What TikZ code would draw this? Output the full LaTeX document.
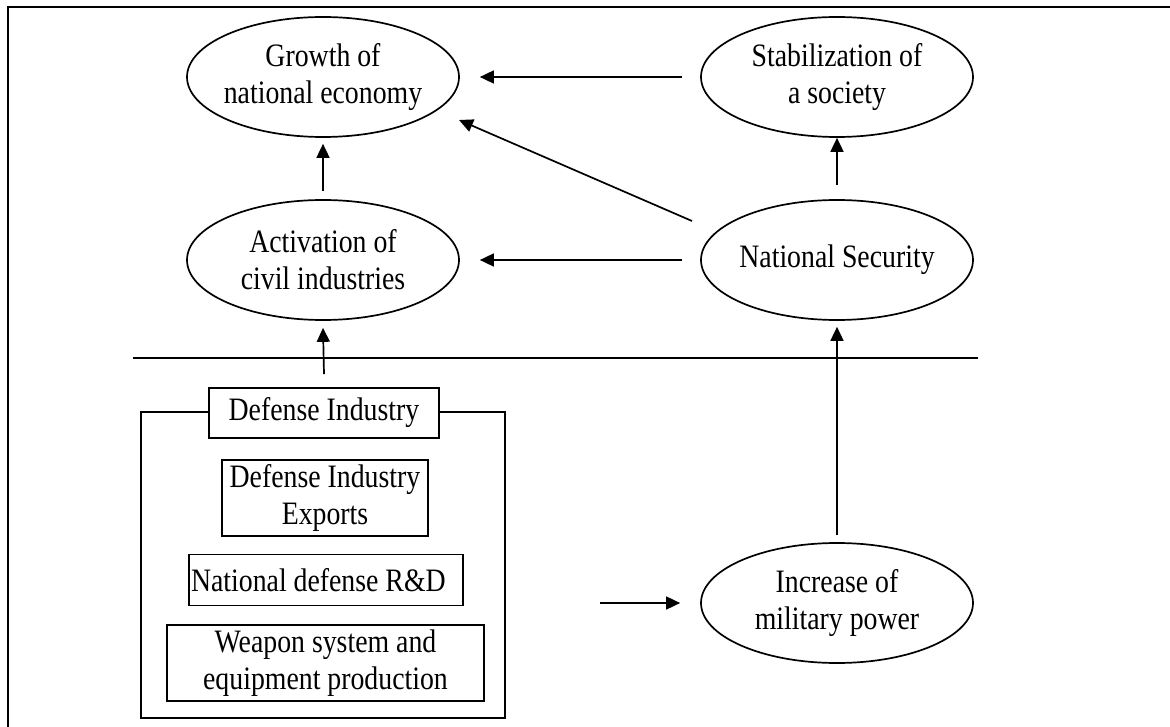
\documentclass[tikz,border=0pt]{standalone}
\usepackage{fontspec}
\setmainfont{Liberation Serif}[FakeStretch=0.85]
\usetikzlibrary{shapes.geometric,arrows.meta,calc}

\begin{document}
\begin{tikzpicture}[x=1pt,y=-1pt,
  every node/.style={font=\fontsize{32.7}{37}\selectfont},
  goal/.style={ellipse,draw,line width=1.7pt,minimum width=272pt,minimum height=120pt,inner sep=-10pt,align=center},
  part/.style={rectangle,draw,line width=1.9pt,inner sep=0pt,align=center},
  link/.style={line width=1.7pt,-{Triangle[length=14pt,width=13pt]}},
  rule/.style={line width=2.2pt}]
\useasboundingbox[fill=white] (0,0) rectangle (1170,727);

% frame and separator
\coordinate (fbl) at (8,727);
\coordinate (ftl) at (8,7);
\coordinate (ftr) at (1170,7);
\draw[rule] (fbl) -- (ftl) -- (ftr);
\coordinate (sepL) at (133,358);
\coordinate (sepR) at (978,358);
\draw[rule] (sepL) -- (sepR);

% outcomes
\node[goal] (growth) at (323,77) {Growth of\\national economy};
\node[goal] (stab) at (837,77) {Stabilization of\\a society};
\node[goal] (act) at (323,260) {Activation of\\civil industries};
\node[goal] (ns) at (837,260) {National Security};
\node[goal] (inc) at (837,603) {Increase of\\military power};

% defense industry group
\node[draw,line width=2.1pt,minimum width=364pt,minimum height=306pt,inner sep=0pt] (dbox) at (323,565) {};
\node[part,fill=white,minimum width=230pt,minimum height=50pt] (dtitle) at (324,413) {Defense Industry};
\node[part,minimum width=206pt,minimum height=76pt] (exp) at (325,498) {Defense Industry\\Exports};
\node[part,minimum width=274pt,minimum height=51pt,text width=270pt,align=flush left] (rnd) at (326,580) {National defense R\&D};
\node[part,minimum width=317pt,minimum height=76pt] (weap) at (325.5,663) {Weapon system and\\equipment production};

% connectors
\draw[link] ($(stab.west)+(-18,0)$) -- ($(growth.east)+(20,0)$);
\draw[link] ($(ns.center)+(-145,-39)$) -- ($(growth.center)+(136,43)$);
\draw[link] ($(ns.west)+(-18,0)$) -- ($(act.east)+(20,0)$);
\draw[link] ($(act.north)+(0,-8)$) -- ($(growth.south)+(0,6)$);
\draw[link] ($(ns.north)+(0,-14)$) -- (stab.south);
\draw[link] ($(dtitle.north)+(0,-13)$) -- ($(act.south)+(0,7)$);
\draw[link] ($(inc.north)+(0,-7)$) -- ($(ns.south)+(0,6)$);
\draw[link] ($(inc.west)+(-100,0)$) -- ($(inc.west)+(-20,0)$);
\end{tikzpicture}
\end{document}
